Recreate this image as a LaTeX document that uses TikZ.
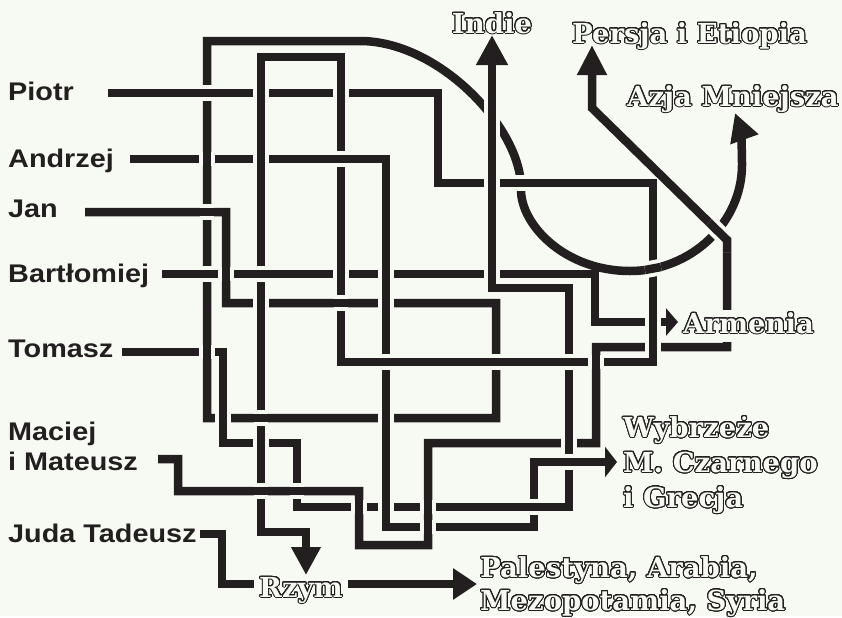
\documentclass[tikz,border=0pt]{standalone}
\usepackage{fontspec}
\usepackage{contour}
\usetikzlibrary{arrows.meta}

\newfontfamily\namefont[FakeStretch=1.13]{Liberation Sans}
\newfontfamily\placefont{DejaVu Serif}
\definecolor{bg}{RGB}{247,249,243}
\definecolor{ink}{RGB}{35,31,32}
\contourlength{1pt}
\contournumber{32}

\newcommand\outl[1]{\contour{ink}{\textcolor{bg}{#1}}}
\newcommand\bridge[2]{\draw[gap] #1 -- #2; \draw[maze] #1 -- #2;}
\newcommand\hb[2]{\bridge{(#1-7,#2)}{(#1+7,#2)}}
\newcommand\vb[2]{\bridge{(#1,#2-7)}{(#1,#2+7)}}

\tikzset{
  maze/.style={draw=ink, line width=8.5pt, line join=miter},
  gap/.style={draw=bg, line width=16.5pt},
  who/.style={anchor=base west, inner sep=0pt, text=ink,
    font=\namefont\bfseries\fontsize{25.5}{30}\selectfont},
  dest/.style={inner sep=0pt, font=\placefont\bfseries\fontsize{27.5}{35}\selectfont},
}

\begin{document}
\begin{tikzpicture}[x=1pt, y=-1pt]
  \fill[bg] (0,0) rectangle (842,616);

  % apostles
  \node[who] (piotr) at (8,100) {Piotr};
  \node[who] (andrzej) at (8,167) {Andrzej};
  \node[who] (jan) at (8,217) {Jan};
  \node[who] (bartlomiej) at (8,282) {Bartłomiej};
  \node[who] (tomasz) at (8,357) {Tomasz};
  \node[who, anchor=north west, align=left] (maciej) at (8,422) {Maciej\\i Mateusz};
  \node[who] (juda) at (8,542) {Juda Tadeusz};

  \coordinate (piotr-in) at (108,93);
  \coordinate (andrzej-in) at (130,159);
  \coordinate (jan-in) at (85,212);
  \coordinate (bartlomiej-in) at (162,274);
  \coordinate (tomasz-in) at (122,352);
  \coordinate (maciej-in) at (158,459);
  \coordinate (juda-in) at (200,534);

  % arrow tips
  \coordinate (indie-tip) at (492,35);
  \coordinate (persja-tip) at (592,45);
  \coordinate (azja-tip) at (735,113);
  \coordinate (armenia-tip) at (678,322);
  \coordinate (wybrzeze-tip) at (617,462);
  \coordinate (rzym-tip) at (306,575);
  \coordinate (palestyna-tip) at (477,584);

  % paths
  \draw[maze, -{Triangle[length=28pt,width=28pt]}] (piotr-in) -- (438,93) -- (438,183) -- (653,183)
    -- (653,362) -- (341,362) -- (341,57) -- (261,57) -- (261,532) -- (306,532) -- (rzym-tip);
  \draw[maze, -{Triangle[length=12pt,width=30pt]}] (andrzej-in) -- (386,159) -- (386,527) -- (534,527)
    -- (534,462) -- (wybrzeze-tip);
  \draw[maze, -{Triangle[length=28pt,width=28pt]}] (jan-in) -- (226,212) -- (226,303) -- (496,303)
    -- (496,418) -- (207,418) -- (207,41) -- (360,41)
    .. controls (440,41) and (523,130) .. (521,190)
    .. controls (521,225) and (565,271) .. (630,271)
    .. controls (692,271) and (742,222) .. (742,165)
    .. controls (742,142) and (740,127) .. (azja-tip);
  \draw[maze, -{Triangle[length=12pt,width=27pt]}] (bartlomiej-in) -- (595,274) -- (595,322) -- (armenia-tip);
  \draw[maze, -{Triangle[length=30pt,width=30pt]}] (tomasz-in) -- (223,352) -- (223,443) -- (297,443)
    -- (297,507) -- (569,507) -- (569,288) -- (492,288) -- (indie-tip);
  \draw[maze, -{Triangle[length=30pt,width=28pt]}] (maciej-in) -- (178,459) -- (178,491) -- (359,491)
    -- (359,545) -- (428,545) -- (428,443) -- (596,443) -- (596,347) -- (727,347) -- (727,240)
    -- (592,108) -- (persja-tip);
  \draw[maze, -{Triangle[length=24pt,width=30pt]}] (juda-in) -- (222,534) -- (222,584) -- (palestyna-tip);

  % crossings: the line on top
  \foreach \x/\y in {207/93, 207/212, 207/274, 261/274, 341/159, 341/303, 386/362, 496/362,
      569/362, 261/418, 261/491, 297/491, 534/507, 569/462}
    {\hb{\x}{\y}}
  \foreach \x/\y in {261/93, 341/93, 207/159, 261/159, 226/274, 341/274, 386/274, 492/274,
      261/303, 386/303, 386/418, 223/418, 261/443, 359/507, 386/507, 428/507, 428/527,
      569/443, 596/362, 653/322, 653/347, 492/183, 207/352}
    {\vb{\x}{\y}}
  \bridge{(510,183)}{(530,183)}
  \bridge{(492,98)}{(492,136)}
  \bridge{(645,270)}{(661,267)}
  \draw[gap] (709,222.5) -- (727,240) -- (727,252);
  \draw[maze] (709,222.5) -- (727,240) -- (727,252);

  % destinations
  \node[dest, anchor=base] (indie) at (492,33) {\outl{Indie}};
  \node[dest, anchor=base west] (persja) at (572,43) {\outl{Persja i Etiopia}};
  \node[dest, anchor=base west] (azja) at (627,106) {\outl{Azja Mniejsza}};
  \node[dest, anchor=base west, fill=bg, text depth=7pt, inner ysep=2pt] (armenia) at (683,333) {\outl{Armenia}};
  \node[dest, anchor=north west, align=left] (wybrzeze) at (623,416)
    {\outl{Wybrzeże}\\\outl{M. Czarnego}\\\outl{i Grecja}};
  \node[dest, anchor=base, fill=bg, inner xsep=5pt, inner ysep=2pt] (rzym) at (301,597) {\outl{Rzym}};
  \node[dest, anchor=north west, align=left, font=\placefont\bfseries\fontsize{27.5}{33}\selectfont] (palestyna) at (480,556)
    {\outl{Palestyna, Arabia,}\\\outl{Mezopotamia, Syria}};
\end{tikzpicture}
\end{document}
